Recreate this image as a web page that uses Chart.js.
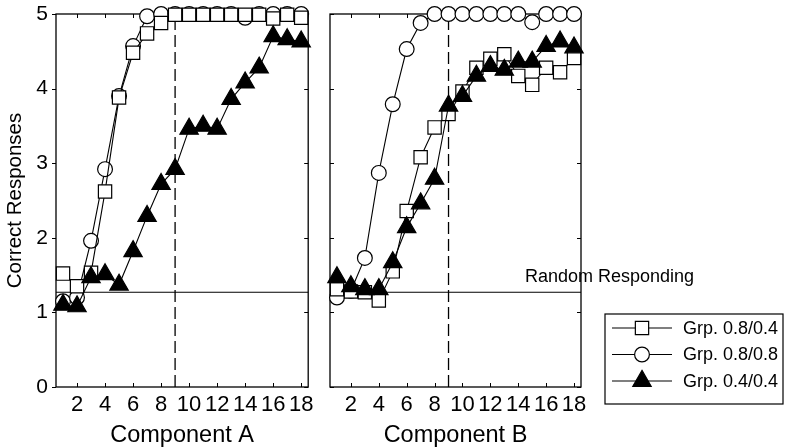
<!DOCTYPE html>
<html>
<head>
<meta charset="utf-8">
<script src="https://cdn.jsdelivr.net/npm/chart.js@4.4.1/dist/chart.umd.min.js"></script>
<style>
  html, body { margin: 0; padding: 0; background: #fff; }
  body { width: 786px; height: 448px; position: relative; overflow: hidden; }
  #wrapA { position: absolute; left: 0; top: 0; width: 320px; height: 448px; }
  #wrapB { position: absolute; left: 310px; top: 0; width: 476px; height: 448px; }
</style>
</head>
<body>
<div id="wrapA"><canvas id="chartA"></canvas></div>
<div id="wrapB"><canvas id="chartB"></canvas></div>
<script>
// ---- data ----
const components = [1, 2, 3, 4, 5, 6, 7, 8, 9, 10, 11, 12, 13, 14, 15, 16, 17, 18];
const xTickValues = [2, 4, 6, 8, 10, 12, 14, 16, 18];
const yTickValues = [0, 1, 2, 3, 4, 5];
const seriesLabels = ['Grp. 0.8/0.4', 'Grp. 0.8/0.8', 'Grp. 0.4/0.4'];
const panelTitles = ['Component A', 'Component B'];
const yTitle = 'Correct Responses';
const randomLabel = 'Random Responding';
const randomLevel = 1.27;
const criterionX = 9;

// Component A
const compA_grp08_04 = [1.52, 1.35, 1.53, 2.62, 3.88, 4.48, 4.74, 4.88, 4.99, 4.99, 4.99, 4.99, 4.99, 4.99, 4.99, 4.94, 4.99, 4.95];
const compA_grp08_08 = [1.15, 1.20, 1.96, 2.92, 3.90, 4.57, 4.97, 5.00, 5.00, 5.00, 5.00, 5.00, 5.00, 4.95, 5.00, 5.00, 5.00, 5.00];
const compA_grp04_04 = [1.10, 1.08, 1.47, 1.51, 1.37, 1.82, 2.29, 2.72, 2.92, 3.46, 3.50, 3.46, 3.86, 4.08, 4.28, 4.70, 4.66, 4.63];

// Component B
const compB_grp08_04 = [1.31, 1.28, 1.27, 1.16, 1.55, 2.36, 3.08, 3.48, 3.66, 3.96, 4.28, 4.40, 4.46, 4.17, 4.05, 4.28, 4.22, 4.41];
const compB_grp08_08 = [1.20, 1.29, 1.73, 2.87, 3.79, 4.53, 4.88, 5.00, 5.00, 5.00, 5.00, 5.00, 5.00, 5.00, 4.89, 5.00, 5.00, 5.00];
const compB_grp04_04 = [1.47, 1.35, 1.31, 1.31, 1.67, 2.14, 2.46, 2.79, 3.77, 3.90, 4.17, 4.30, 4.25, 4.36, 4.36, 4.57, 4.63, 4.55];

// ---- styling ----
const FONT = '"Liberation Sans", Arial, Helvetica, sans-serif';
const X_MIN = 0.5, X_MAX = 18.5, Y_MIN = 0, Y_MAX = 5;

const seriesStyles = [
  { pointStyle: 'rect', radius: 9.4, fill: '#ffffff', order: 1 },
  { pointStyle: 'circle', radius: 7.4, fill: '#ffffff', order: 2 },
  { pointStyle: 'triangle', radius: 10.6, fill: '#000000', order: 0 }
];

function toXY(vals) { return vals.map((v, i) => ({ x: components[i], y: v })); }

function buildDatasets(seriesArrays) {
  const ds = seriesArrays.map((vals, k) => ({
    label: seriesLabels[k],
    data: toXY(vals),
    borderColor: '#000',
    borderWidth: 1.1,
    backgroundColor: seriesStyles[k].fill,
    pointStyle: seriesStyles[k].pointStyle,
    pointRadius: seriesStyles[k].radius,
    pointBackgroundColor: seriesStyles[k].fill,
    pointBorderColor: '#000',
    pointBorderWidth: 1.2,
    pointHoverRadius: seriesStyles[k].radius,
    order: seriesStyles[k].order,
    clip: false,
    tension: 0
  }));
  ds.push({
    label: '_random',
    data: [{ x: X_MIN, y: randomLevel }, { x: X_MAX, y: randomLevel }],
    borderColor: '#000', borderWidth: 1.2, pointRadius: 0, order: 5, clip: false
  });
  ds.push({
    label: '_criterion',
    data: [{ x: criterionX, y: Y_MIN }, { x: criterionX, y: Y_MAX }],
    borderColor: '#000', borderWidth: 1.3, borderDash: [12, 5], pointRadius: 0, order: 6, clip: false
  });
  return ds;
}

const framePlugin = {
  id: 'frame',
  beforeDatasetsDraw(chart) {
    const { ctx, chartArea: a, scales } = chart;
    const isA = chart.canvas.id === 'chartA';
    ctx.save();
    ctx.strokeStyle = '#000';
    ctx.lineWidth = 1.3;
    ctx.strokeRect(a.left, a.top, a.right - a.left, a.bottom - a.top);
    ctx.lineWidth = 1;
    const tl = 4;
    ctx.beginPath();
    xTickValues.forEach(v => {
      const px = Math.round(scales.x.getPixelForValue(v)) + 0.5;
      ctx.moveTo(px, a.bottom); ctx.lineTo(px, a.bottom - tl);
      ctx.moveTo(px, a.top); ctx.lineTo(px, a.top + tl);
    });
    yTickValues.forEach(v => {
      const py = Math.round(scales.y.getPixelForValue(v)) + 0.5;
      ctx.moveTo(a.left - (isA ? 4 : 0), py); ctx.lineTo(a.left + (isA ? 0 : tl), py);
      ctx.moveTo(a.right, py); ctx.lineTo(a.right - tl, py);
    });
    ctx.stroke();
    ctx.restore();
  }
};

function makeOptions(panelIdx, padding, showY, yWidth) {
  return {
    responsive: false,
    animation: false,
    events: [],
    layout: { padding },
    plugins: { legend: { display: false }, tooltip: { enabled: false } },
    scales: {
      x: {
        type: 'linear', min: X_MIN, max: X_MAX,
        afterBuildTicks: s => { s.ticks = xTickValues.map(v => ({ value: v })); },
        afterFit: s => { s.height = 61; s.paddingLeft = 0; s.paddingRight = 0; },
        grid: { display: false, drawTicks: false },
        border: { display: false },
        ticks: { color: '#000', font: { family: FONT, size: 22 }, padding: 5, maxRotation: 0, autoSkip: false },
        title: { display: true, text: panelTitles[panelIdx], color: '#000', font: { family: FONT, size: 23.5 }, padding: { top: 0, bottom: -2 } }
      },
      y: {
        type: 'linear', min: Y_MIN, max: Y_MAX, display: true,
        afterBuildTicks: s => { s.ticks = yTickValues.map(v => ({ value: v })); },
        afterFit: s => { s.width = yWidth; s.paddingTop = 0; s.paddingBottom = 0; },
        grid: { display: false, drawTicks: false },
        border: { display: false },
        ticks: { display: showY, color: '#000', font: { family: FONT, size: 21 }, padding: 8 },
        title: { display: showY, text: yTitle, color: '#000', font: { family: FONT, size: 20.5 }, padding: { top: 3, bottom: 0 } }
      }
    }
  };
}

const legendPlugin = {
  id: 'customLegend',
  afterDraw(chart) {
    const { ctx, scales } = chart;
    const offset = 310;
    ctx.save();
    ctx.fillStyle = '#000';
    ctx.font = '18px ' + FONT;
    ctx.textBaseline = 'alphabetic';
    ctx.textAlign = 'left';
    ctx.fillText(randomLabel, 525 - offset, scales.y.getPixelForValue(randomLevel) - 10);
    const bx = 605 - offset, by = 314, bw = 178, bh = 90;
    ctx.strokeStyle = '#000';
    ctx.lineWidth = 1.2;
    ctx.strokeRect(bx, by, bw, bh);
    ctx.font = '18px ' + FONT;
    ctx.textBaseline = 'middle';
    const ds = chart.data.datasets;
    for (let k = 0; k < 3; k++) {
      const y = by + 14 + k * 26.5;
      ctx.beginPath();
      ctx.lineWidth = 1.1;
      ctx.moveTo(bx + 7, y); ctx.lineTo(bx + 67, y);
      ctx.stroke();
      ctx.fillStyle = ds[k].pointBackgroundColor;
      ctx.strokeStyle = '#000';
      ctx.lineWidth = 1.2;
      Chart.helpers.drawPoint(ctx, { pointStyle: ds[k].pointStyle, radius: ds[k].pointRadius, rotation: 0, borderWidth: 1.2 }, bx + 37, y);
      ctx.fillStyle = '#000';
      ctx.fillText(ds[k].label, bx + 78, y + 1);
    }
    ctx.restore();
  }
};

function setup(id, w, h) {
  const c = document.getElementById(id);
  c.width = w; c.height = h;
  c.style.width = w + 'px'; c.style.height = h + 'px';
  return c;
}

new Chart(setup('chartA', 320, 448), {
  type: 'line',
  data: { datasets: buildDatasets([compA_grp08_04, compA_grp08_08, compA_grp04_04]) },
  options: makeOptions(0, { left: 0, right: 11, top: 14, bottom: 0 }, true, 56),
  plugins: [framePlugin]
});

new Chart(setup('chartB', 476, 448), {
  type: 'line',
  data: { datasets: buildDatasets([compB_grp08_04, compB_grp08_08, compB_grp04_04]) },
  options: makeOptions(1, { left: 0, right: 205, top: 14, bottom: 0 }, false, 20),
  plugins: [framePlugin, legendPlugin]
});
</script>
</body>
</html>
